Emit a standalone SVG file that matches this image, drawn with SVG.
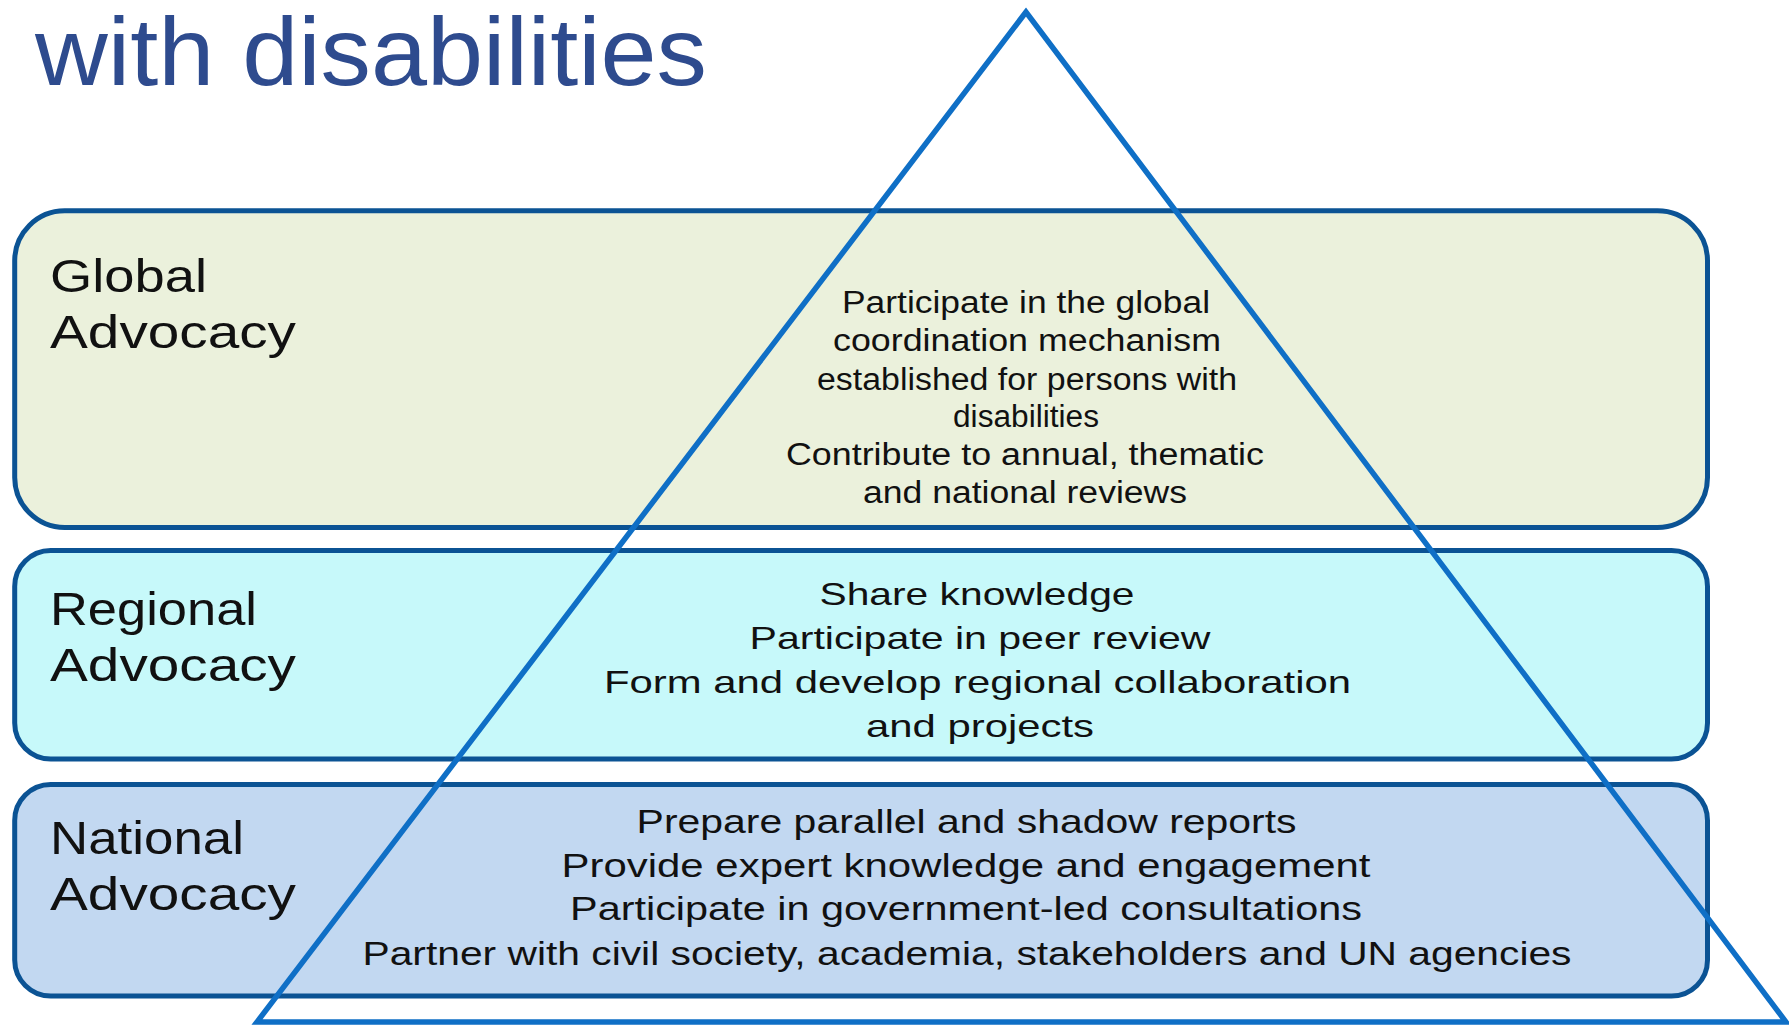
<svg xmlns="http://www.w3.org/2000/svg" width="1789" height="1025" viewBox="0 0 1789 1025">
<style>
.box{stroke:#0B5394;stroke-width:5}
.lbl{font-family:"Liberation Sans",Arial,sans-serif;font-size:47px;fill:#111}
.g{font-family:"Liberation Sans",Arial,sans-serif;font-size:31px;fill:#111;text-anchor:middle}
.r{font-family:"Liberation Sans",Arial,sans-serif;font-size:32px;fill:#111;text-anchor:middle}
.n{font-family:"Liberation Sans",Arial,sans-serif;font-size:33px;fill:#111;text-anchor:middle}
</style>
<rect width="1789" height="1025" fill="#fff"/>
<text id="title" x="35" y="85" font-family="Liberation Sans,Arial,sans-serif" font-size="96" fill="#2E4B8E" textLength="672" lengthAdjust="spacingAndGlyphs">with disabilities</text>
<g id="global">
<rect class="box" x="14.7" y="210.8" width="1692.8" height="316.7" rx="50" fill="#EBF1DC"/>
<text class="lbl" x="50" y="292" textLength="157" lengthAdjust="spacingAndGlyphs">Global</text>
<text class="lbl" x="50" y="348" textLength="246" lengthAdjust="spacingAndGlyphs">Advocacy</text>
</g>
<g id="regional">
<rect class="box" x="14.7" y="550.5" width="1692.8" height="208.5" rx="36" fill="#C7F9FA"/>
<text class="lbl" x="50" y="624.5" textLength="207" lengthAdjust="spacingAndGlyphs">Regional</text>
<text class="lbl" x="50" y="681" textLength="246" lengthAdjust="spacingAndGlyphs">Advocacy</text>
</g>
<g id="national">
<rect class="box" x="14.7" y="784.5" width="1692.8" height="211.5" rx="36" fill="#C2D8F1"/>
<text class="lbl" x="50" y="854" textLength="194" lengthAdjust="spacingAndGlyphs">National</text>
<text class="lbl" x="50" y="910" textLength="246" lengthAdjust="spacingAndGlyphs">Advocacy</text>
</g>
<g id="connectors">
<polygon points="1026,12 257,1022 1786,1022" fill="none" stroke="#0F6FC6" stroke-width="5.5" stroke-linejoin="miter"/>
</g>
<g id="global-text">
<text class="g" x="1026" y="313" textLength="368" lengthAdjust="spacingAndGlyphs">Participate in the global</text>
<text class="g" x="1027" y="351" textLength="388" lengthAdjust="spacingAndGlyphs">coordination mechanism</text>
<text class="g" x="1027" y="390" textLength="420" lengthAdjust="spacingAndGlyphs">established for persons with</text>
<text class="g" x="1026" y="427" textLength="146" lengthAdjust="spacingAndGlyphs">disabilities</text>
<text class="g" x="1025" y="465" textLength="478" lengthAdjust="spacingAndGlyphs">Contribute to annual,  thematic</text>
<text class="g" x="1025" y="503" textLength="324" lengthAdjust="spacingAndGlyphs">and national  reviews</text>
</g>
<g id="regional-text">
<text class="r" x="977" y="605" textLength="315" lengthAdjust="spacingAndGlyphs">Share knowledge</text>
<text class="r" x="980" y="649" textLength="461" lengthAdjust="spacingAndGlyphs">Participate in peer review</text>
<text class="r" x="977.5" y="693" textLength="747" lengthAdjust="spacingAndGlyphs">Form and develop regional collaboration</text>
<text class="r" x="980" y="737" textLength="228" lengthAdjust="spacingAndGlyphs">and projects</text>
</g>
<g id="national-text">
<text class="n" x="966.6" y="833" textLength="660" lengthAdjust="spacingAndGlyphs">Prepare parallel and shadow reports</text>
<text class="n" x="966" y="877" textLength="809" lengthAdjust="spacingAndGlyphs">Provide expert knowledge and engagement</text>
<text class="n" x="966" y="920" textLength="792" lengthAdjust="spacingAndGlyphs">Participate in government-led consultations</text>
<text class="n" x="967" y="965" textLength="1209" lengthAdjust="spacingAndGlyphs">Partner with civil society, academia, stakeholders and UN agencies</text>
</g>
</svg>
